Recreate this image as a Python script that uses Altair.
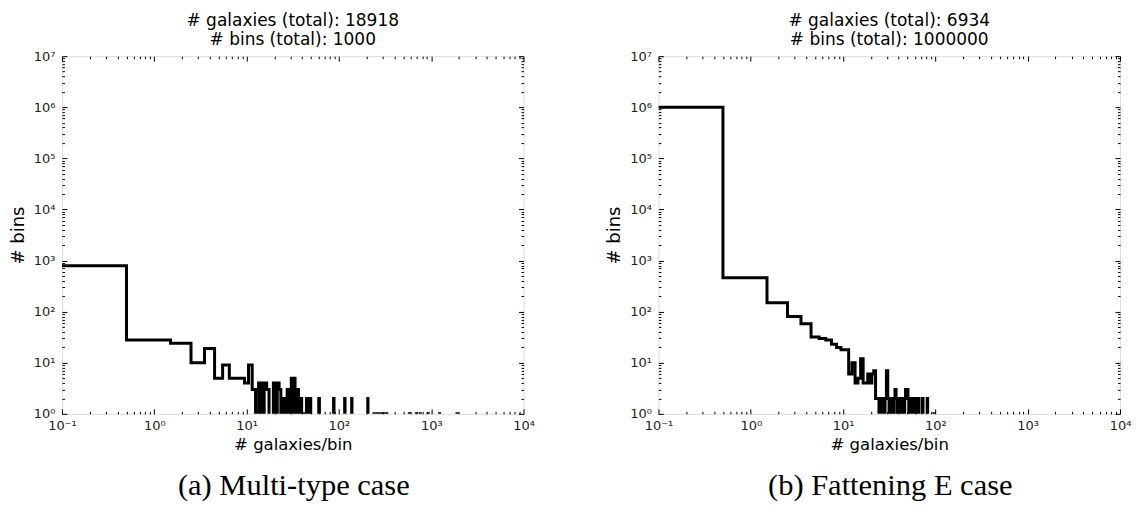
import altair as alt
import pandas as pd

# ---------------- axis ranges ----------------
XMIN, XMAX = 0.1, 1e4
YMIN, YMAX = 1, 1e7
ZERO_FLOOR = 0.1   # empty bins sit below the log axis (clipped), as in matplotlib

# ---------------- panel (a): Multi-type case ----------------
a_k = [0, 1, 2, 3, 4, 5, 6, 7, 8, 9, 10, 11, 12,
       14, 16, 17, 20, 22, 23, 25, 27, 28, 30, 31, 33, 34, 36, 37, 39, 42, 45,
       49, 61, 88, 116, 138, 206,
       240, 255, 270, 290, 310, 330, 580, 690, 760, 930, 1230, 1900]
a_counts = [795, 28, 24, 10, 19, 5, 9, 5, 5, 5, 4, 9, 3,
            4, 4, 3, 4, 4, 3, 2, 2, 3, 3, 5, 5, 3, 3, 2, 2, 1, 2,
            2, 2, 2, 2, 2, 2,
            1, 1, 1, 1, 1, 1, 1, 1, 1, 1, 1, 1]

# ---------------- panel (b): Fattening E case ----------------
b_k = [0, 1, 2, 3, 4, 5, 6, 7, 8, 9, 10, 11,
       12, 13, 14, 15, 16, 17, 18, 19, 20, 21, 22,
       23, 24, 26, 27, 29, 30, 31, 33, 34, 36, 37, 38, 40, 41, 43, 44, 45,
       47, 48, 49, 50, 51, 53, 54, 56, 58, 59, 62, 66, 73, 82, 97]
b_counts = [998900, 460, 150, 80, 58, 32, 30, 28, 23, 20, 18, 18,
            6, 10, 4, 5, 12, 4, 4, 6, 4, 6, 7,
            2, 2, 2, 2, 2, 7, 2, 2, 2, 2, 3, 2, 2, 2, 2, 2, 2,
            2, 3, 2, 3, 2, 2, 2, 2, 1, 2, 2, 2, 2, 2, 1]

a_title = ["# galaxies (total): 18918", "# bins (total): 1000"]
b_title = ["# galaxies (total): 6934", "# bins (total): 1000000"]
a_caption = "(a) Multi-type case"
b_caption = "(b) Fattening E case"
x_title = "# galaxies/bin"
y_title = "# bins"

major_x = [0.1, 1, 10, 100, 1000, 10000]
major_y = [1, 10, 100, 1e3, 1e4, 1e5, 1e6, 1e7]
minor_x = [m * d for d in [0.1, 1, 10, 100, 1000] for m in range(2, 10)]
minor_y = [m * d for d in [1, 10, 100, 1e3, 1e4, 1e5, 1e6] for m in range(2, 10)]

MAJ, MIN = 5, 2.5
PW, PH = 462, 358

EXP = "round(log(datum.value)/LN10)"
LABEL_EXPR = ("'10' + (" + EXP + " < 0 ? '⁻' : '') + substring('⁰¹²³⁴⁵⁶⁷⁸⁹', abs(" + EXP +
              "), abs(" + EXP + ") + 1)")


def step_frame(ks, counts):
    table = dict(zip(ks, counts))
    kmax = max(ks)
    rows = []
    prev = None
    for k in range(0, kmax + 1):
        c = table.get(k, 0)
        y = c if c > 0 else ZERO_FLOOR
        if y != prev:
            rows.append({"x": max(k - 0.5, XMIN), "y": y})
            prev = y
    rows.append({"x": kmax + 0.5, "y": ZERO_FLOOR})
    return pd.DataFrame(rows)


def tick_axis(values, orient, size, **kw):
    return alt.Axis(values=values, orient=orient, offset=-size, tickSize=size,
                    tickColor="black", tickWidth=1, domain=False, grid=False, **kw)


def panel(df, title, caption):
    xs = alt.Scale(type="log", domain=[XMIN, XMAX], nice=False)
    ys = alt.Scale(type="log", domain=[YMIN, YMAX], nice=False)
    base = alt.Chart(df)
    line = base.mark_line(interpolate="step-after", color="black", strokeWidth=3,
                          clip=True).encode(
        x=alt.X("x:Q", scale=xs,
                axis=tick_axis(major_x, "bottom", MAJ, labelExpr=LABEL_EXPR,
                               labelFont="DejaVu Sans", labelFontSize=13,
                               labelColor="#222", labelPadding=6, labelFlush=False,
                               title=x_title, titleFont="DejaVu Sans",
                               titleFontSize=16.5, titleFontWeight="normal",
                               titleColor="black", titlePadding=4)),
        y=alt.Y("y:Q", scale=ys,
                axis=tick_axis(major_y, "left", MAJ, labelExpr=LABEL_EXPR,
                               labelFont="DejaVu Sans", labelFontSize=13,
                               labelColor="#222", labelPadding=7, labelFlush=False,
                               title=y_title, titleFont="DejaVu Sans",
                               titleFontSize=18, titleFontWeight="normal",
                               titleColor="black", titlePadding=6)),
    )
    ghost = base.mark_line(opacity=0)
    l2 = ghost.encode(
        x=alt.X("x:Q", scale=xs, axis=tick_axis(minor_x, "bottom", MIN, labels=False, title=None)),
        y=alt.Y("y:Q", scale=ys, axis=tick_axis(minor_y, "left", MIN, labels=False, title=None)),
    )
    l3 = ghost.encode(
        x=alt.X("x:Q", scale=xs, axis=tick_axis(major_x, "top", MAJ, labels=False, title=None)),
        y=alt.Y("y:Q", scale=ys, axis=tick_axis(major_y, "right", MAJ, labels=False, title=None)),
    )
    l4 = ghost.encode(
        x=alt.X("x:Q", scale=xs, axis=tick_axis(minor_x, "top", MIN, labels=False, title=None)),
        y=alt.Y("y:Q", scale=ys, axis=tick_axis(minor_y, "right", MIN, labels=False, title=None)),
    )
    layered = alt.layer(line, l2, l3, l4).resolve_axis(
        x="independent", y="independent"
    ).properties(
        width=PW, height=PH,
        title=alt.Title(title, font="DejaVu Sans", fontSize=17, fontWeight="normal",
                        color="black", anchor="middle", lineHeight=19.5, offset=1),
    )
    return alt.vconcat(layered).properties(
        title=alt.Title(caption, orient="bottom", font="Liberation Serif", fontSize=30.5,
                        fontWeight="normal", color="black", anchor="middle", offset=6,
                        dx=22)
    )


chart = alt.hconcat(
    panel(step_frame(a_k, a_counts), a_title, a_caption),
    panel(step_frame(b_k, b_counts), b_title, b_caption),
    spacing=69,
).configure_view(stroke="black", strokeWidth=1).configure(
    padding={"top": 3, "left": 0, "right": 0, "bottom": 0}
)

chart.save("out.html", embed_options={"renderer": "svg", "actions": False})
